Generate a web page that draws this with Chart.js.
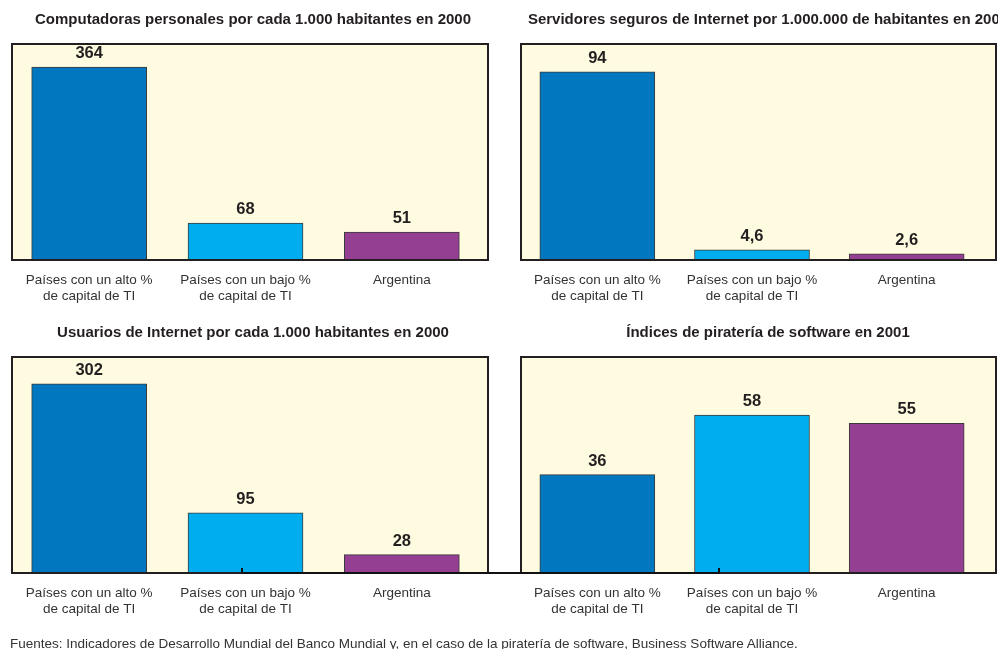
<!DOCTYPE html>
<html><head><meta charset="utf-8">
<script src="https://cdn.jsdelivr.net/npm/chart.js@4.4.1/dist/chart.umd.min.js"></script>
<style>
html,body{margin:0;padding:0;background:#fff;overflow:hidden;width:998px;height:649px;}
#wrap{position:relative;width:998px;height:649px;overflow:hidden;}
canvas{position:absolute;}
#c1{left:0;top:0}
#c2{left:500px;top:0}
#c3{left:0;top:313px}
#c4{left:500px;top:313px}
#link{position:absolute;left:241px;top:568px;width:475px;height:4px;border:2px solid #111;border-top:none;}
#foot{position:absolute;left:10px;top:636px;font:13.5px "Liberation Sans",Arial,sans-serif;color:#333;white-space:nowrap;line-height:16px;}
</style></head><body>
<div id="wrap">
<canvas id="c1" width="500" height="320"></canvas>
<canvas id="c2" width="540" height="320"></canvas>
<canvas id="c3" width="500" height="320"></canvas>
<canvas id="c4" width="540" height="320"></canvas>
<div id="link"></div>
<div id="foot">Fuentes: Indicadores de Desarrollo Mundial del Banco Mundial y, en el caso de la piratería de software, Business Software Alliance.</div>
</div>
<script>
const categories = [["Países con un alto %", "de capital de TI"], ["Países con un bajo %", "de capital de TI"], "Argentina"];
const titles = [
  "Computadoras personales por cada 1.000 habitantes en 2000",
  "Servidores seguros de Internet por 1.000.000 de habitantes en 2001",
  "Usuarios de Internet por cada 1.000 habitantes en 2000",
  "Índices de piratería de software en 2001"
];
const pcValues = [364, 68, 51];
const serverValues = [94, 4.6, 2.6];
const internetValues = [302, 95, 28];
const piracyValues = [36, 58, 55];
const barColors = ["#0077bf", "#00aeef", "#953f93"];

const FONT = '"Liberation Sans", Arial, Helvetica, sans-serif';
const INK = "#231f20";

const boxPlugin = {
  id: "panelBox",
  beforeDatasetsDraw(chart, args, opts) {
    const a = chart.chartArea, ctx = chart.ctx;
    ctx.save();
    ctx.fillStyle = "#fffbe0";
    ctx.fillRect(a.left + 1, a.top, a.right + opts.extra - a.left - 2, a.bottom - a.top + 1);
    ctx.restore();
  },
  afterDatasetsDraw(chart, args, opts) {
    const a = chart.chartArea, ctx = chart.ctx;
    ctx.save();
    ctx.strokeStyle = INK;
    ctx.lineWidth = 2;
    ctx.strokeRect(a.left + 1, a.top, a.right + opts.extra - a.left - 2, a.bottom - a.top + 1);
    const meta = chart.getDatasetMeta(0);
    const vals = chart.data.datasets[0].data;
    ctx.fillStyle = INK;
    ctx.font = "bold 16.5px " + FONT;
    ctx.textAlign = "center";
    ctx.textBaseline = "middle";
    meta.data.forEach((bar, i) => {
      ctx.fillText(String(vals[i]).replace(".", ","), bar.x, bar.y - 13.5);
    });
    ctx.restore();
  }
};

function makeChart(id, title, values, yMax, side) {
  const left = side === "left";
  new Chart(document.getElementById(id), {
    type: "bar",
    data: {
      labels: categories,
      datasets: [{
        data: values,
        backgroundColor: barColors,
        borderColor: "#3a3a3a",
        borderWidth: 1,
        barThickness: 115
      }]
    },
    options: {
      responsive: false,
      animation: false,
      events: [],
      layout: { padding: { left: left ? 11 : 20, right: left ? 5 : 24, top: 0, bottom: 3 } },
      plugins: {
        legend: { display: false },
        tooltip: { enabled: false },
        title: {
          display: true,
          text: title,
          color: INK,
          font: { family: FONT, size: 15, weight: "bold" },
          padding: { top: 11, bottom: 15 }
        },
        panelBox: { extra: left ? 9 : 13 }
      },
      scales: {
        x: {
          grid: { display: false, drawTicks: false },
          border: { display: false },
          ticks: {
            color: "#333",
            font: { family: FONT, size: 13.5, lineHeight: 16 / 13.5 },
            padding: 13,
            maxRotation: 0,
            autoSkip: false
          }
        },
        y: { display: false, min: 0, max: yMax },
        y2: {
          type: "linear",
          position: "right",
          display: true,
          grid: { display: false, drawTicks: false },
          border: { display: false },
          ticks: { display: false },
          afterFit: (s) => { s.width = left ? 15 : 32; }
        }
      }
    },
    plugins: [boxPlugin]
  });
}

makeChart("c1", titles[0], pcValues, 408, "left");
makeChart("c2", titles[1], serverValues, 108, "right");
makeChart("c3", titles[2], internetValues, 345, "left");
makeChart("c4", titles[3], piracyValues, 79.5, "right");
</script>
</body></html>
